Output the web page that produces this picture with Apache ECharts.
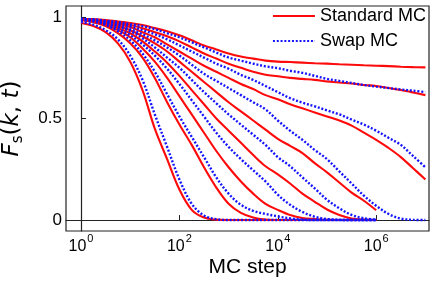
<!DOCTYPE html>
<html>
<head>
<meta charset="utf-8">
<script src="https://cdn.jsdelivr.net/npm/echarts@6/dist/echarts.min.js"></script>
<style>html,body{margin:0;padding:0;background:#fff}#c{width:436px;height:287px}</style>
</head>
<body>
<div id="c"></div>
<script>
// x positions: exponent of MC step (10^x)
var stepExp = [0,0.25,0.5,0.75,1,1.25,1.5,1.75,2,2.25,2.5,2.75,3,3.25,3.5,3.75,4,4.25,4.5,4.75,5,5.25,5.5,5.75,6,6.25,6.5,6.75,7];
var xTicks = [0,2,4,6];
var yTicks = [0,0.5,1];

// Standard MC (red, solid)
var std1 = [.97,.955,.925,.87,.78,.64,.45,.30,.15,.05,.012,.002,0,0,0,0,0,0,0,0,0,0,0,0,0];
var std2 = [.985,.975,.955,.92,.87,.80,.70,.58,.47,.37,.26,.16,.08,.035,.012,.002,0,0,0,0,0,0,0,0,0];
var std3 = [.985,.975,.96,.935,.9,.845,.78,.70,.61,.52,.43,.34,.26,.19,.13,.08,.05,.025,.01,.005,.001,0,0,0,0];
var std4 = [.988,.98,.968,.945,.92,.88,.83,.775,.71,.64,.57,.5,.44,.38,.32,.265,.225,.18,.13,.09,.052,.025,.008,.002,0];
var std5 = [.99,.985,.972,.955,.935,.905,.87,.83,.78,.73,.68,.63,.58,.535,.49,.445,.40,.365,.33,.28,.235,.185,.135,.095,.048];
var std6 = [.99,.987,.975,.965,.95,.925,.9,.865,.83,.795,.76,.73,.70,.67,.645,.615,.595,.57,.55,.53,.51,.49,.465,.43,.395,.355,.31,.255,.2];
var std7 = [.99,.988,.98,.972,.96,.945,.925,.905,.88,.85,.82,.795,.77,.75,.73,.715,.708,.70,.695,.69,.683,.677,.672,.665,.66,.65,.64,.628,.615];
var std8 = [.99,.989,.985,.978,.97,.96,.945,.93,.91,.885,.86,.84,.82,.805,.795,.785,.78,.778,.775,.772,.77,.767,.765,.762,.76,.758,.755,.753,.752];

// Swap MC (blue, dotted)
var swp1 = [.975,.962,.935,.89,.81,.69,.52,.36,.2,.08,.022,.004,0,0,0,0,0,0,0,0,0,0,0,0,0];
var swp2 = [.985,.978,.96,.93,.885,.82,.73,.62,.51,.41,.31,.21,.13,.075,.045,.03,.018,.008,.002,0,0,0,0,0,0];
var swp3 = [.988,.98,.965,.94,.91,.865,.81,.745,.67,.59,.51,.43,.36,.30,.245,.19,.125,.075,.04,.016,.005,.001,0,0,0];
var swp4 = [.99,.983,.97,.952,.93,.895,.85,.80,.75,.69,.63,.575,.52,.47,.42,.37,.31,.265,.21,.156,.1,.058,.025,.009,.002];
var swp5 = [.99,.985,.975,.96,.94,.915,.885,.85,.81,.765,.72,.685,.65,.615,.58,.545,.49,.44,.395,.345,.30,.24,.18,.12,.07,.03,.007,.001,0];
var swp6 = [.99,.988,.978,.968,.955,.935,.915,.89,.86,.83,.80,.77,.745,.715,.69,.66,.63,.60,.578,.56,.54,.52,.495,.47,.44,.405,.37,.315,.26];
var swp7 = [.99,.988,.982,.975,.965,.955,.94,.92,.90,.875,.85,.825,.80,.785,.77,.757,.748,.735,.725,.71,.695,.685,.675,.665,.657,.65,.643,.637,.63];

var stdSets = [std1,std2,std3,std4,std5,std6,std7,std8];
var swpSets = [swp1,swp2,swp3,swp4,swp5,swp6,swp7];

function pairs(vals){ return vals.map(function(v,i){ return [stepExp[i], v]; }); }

var series = [];
stdSets.forEach(function(s){
  series.push({name:'Standard MC', type:'line', data:pairs(s), symbol:'none', smooth:0.35, z:2,
    lineStyle:{color:'#ff0a0a', width:2.1}, itemStyle:{color:'#ff0a0a'}});
});
swpSets.forEach(function(s){
  series.push({name:'Swap MC', type:'line', data:pairs(s), symbol:'none', smooth:0.35, z:3,
    lineStyle:{color:'#1414ff', width:2.4, type:[2,1.8]}, itemStyle:{color:'#1414ff'}});
});

var chart = echarts.init(document.getElementById('c'), null, {renderer:'canvas'});
chart.setOption({
  animation:false,
  backgroundColor:'#fff',
  grid:{left:66, right:7, top:6, bottom:56, outerBoundsMode:'none', containLabel:false,
    show:true, borderColor:'#222', borderWidth:1.2, backgroundColor:'transparent'},
  legend:{data:['Standard MC','Swap MC'], orient:'vertical', right:10, top:7, padding:0,
    itemWidth:42, itemHeight:16, itemGap:7, itemStyle:{opacity:0},
    textStyle:{fontSize:18, color:'#000', fontFamily:'Liberation Sans, Arial, sans-serif'}},
  xAxis:{type:'value', min:-0.305, max:7.073,
    name:'MC step', nameLocation:'middle', nameGap:26, nameMoveOverlap:false,
    nameTextStyle:{fontSize:21, color:'#000', fontFamily:'Liberation Sans, Arial, sans-serif'},
    axisLine:{lineStyle:{color:'#222', width:1.2}},
    axisTick:{inside:true, length:5, customValues:xTicks, lineStyle:{color:'#222'}},
    splitLine:{show:false},
    axisLabel:{customValues:xTicks, margin:3,
      formatter:function(v){ return '{b|10}{s|' + v + '}'; },
      rich:{
        b:{fontSize:16, lineHeight:26, color:'#000', fontFamily:'Liberation Sans, Arial, sans-serif'},
        s:{fontSize:11, lineHeight:10, padding:[0,0,16,1], color:'#000', fontFamily:'Liberation Sans, Arial, sans-serif'}
      }}
  },
  yAxis:{type:'value', min:-0.054, max:1.054,
    name:'{i|F}{s|s}{n|(}{i|k}{n|, }{i|t}{n|)}', nameLocation:'middle', nameRotate:90, nameGap:40, nameMoveOverlap:false,
    nameTextStyle:{
      rich:{
        i:{fontSize:23, lineHeight:28, fontStyle:'italic', color:'#000', fontFamily:'DejaVu Sans'},
        n:{fontSize:23, lineHeight:28, color:'#000', fontFamily:'DejaVu Sans'},
        s:{fontSize:15, lineHeight:16, padding:[12,0,0,0], color:'#000', fontFamily:'DejaVu Sans'}
      }},
    axisLine:{show:true, lineStyle:{color:'#222', width:1.2}},
    axisTick:{show:true, inside:true, length:5, customValues:yTicks, lineStyle:{color:'#222'}},
    splitLine:{show:false},
    axisLabel:{customValues:yTicks, margin:4, fontSize:17, color:'#000', fontFamily:'Liberation Sans, Arial, sans-serif',
      formatter:function(v){ return String(v); }}
  },
  series:series
});
</script>
</body>
</html>
